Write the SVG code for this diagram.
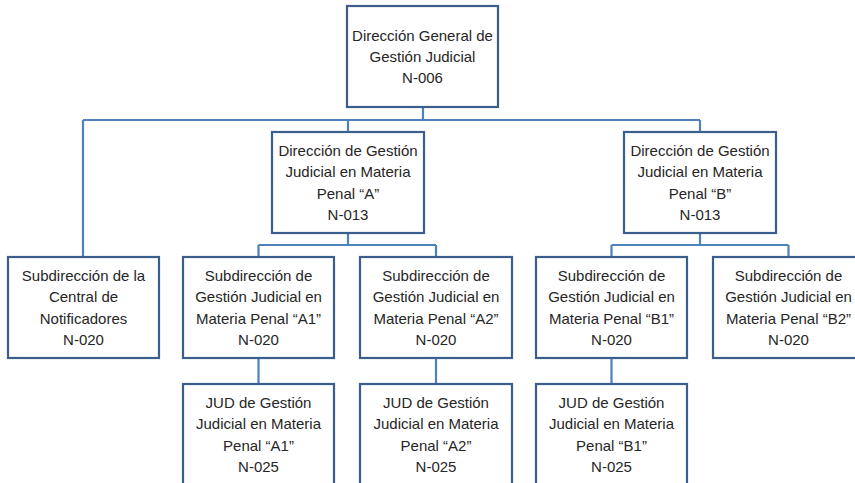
<svg xmlns="http://www.w3.org/2000/svg" width="855" height="483" viewBox="0 0 855 483">
<style>
.box{fill:#fff;stroke:#3A5F8C;stroke-width:2.2}
.con{fill:none;stroke:#4F81BD;stroke-width:2.2}
text{font-family:"Liberation Sans",Arial,sans-serif;font-size:15px;fill:#262626;text-anchor:middle}
</style>
<rect width="855" height="483" fill="#fff"/>
<g id="connectors">
<path class="con" d="M423 107V120M83 120H700M83 120V257M348 120V132M700 120V132"/>
<path class="con" d="M348 233V245M258.5 245H436M258.5 245V257M436 245V257"/>
<path class="con" d="M700 233V245M611.5 245H788.5M611.5 245V257M788.5 245V257"/>
<path class="con" d="M258.5 358V384M436 358V384M611.5 358V384"/>
</g>
<g id="n006">
<rect class="box" x="347" y="6" width="151" height="101"/>
<text x="422.5" y="40.5">Dirección General de</text>
<text x="422.5" y="61.5">Gestión Judicial</text>
<text x="422.5" y="82.5">N-006</text>
</g>
<g id="dirA">
<rect class="box" x="272" y="132" width="152" height="101"/>
<text x="348" y="156">Dirección de Gestión</text>
<text x="348" y="177.3">Judicial en Materia</text>
<text x="348" y="198.6">Penal “A”</text>
<text x="348" y="220">N-013</text>
</g>
<g id="dirB">
<rect class="box" x="624" y="132" width="152" height="101"/>
<text x="700" y="156">Dirección de Gestión</text>
<text x="700" y="177.3">Judicial en Materia</text>
<text x="700" y="198.6">Penal “B”</text>
<text x="700" y="220">N-013</text>
</g>
<g id="central">
<rect class="box" x="8" y="257" width="151" height="101"/>
<text x="83.5" y="281">Subdirección de la</text>
<text x="83.5" y="302.3">Central de</text>
<text x="83.5" y="323.6">Notificadores</text>
<text x="83.5" y="345">N-020</text>
</g>
<g id="subA1">
<rect class="box" x="183" y="257" width="151" height="101"/>
<text x="258.5" y="281">Subdirección de</text>
<text x="258.5" y="302.3">Gestión Judicial en</text>
<text x="258.5" y="323.6">Materia Penal “A1”</text>
<text x="258.5" y="345">N-020</text>
</g>
<g id="subA2">
<rect class="box" x="360" y="257" width="152" height="101"/>
<text x="436" y="281">Subdirección de</text>
<text x="436" y="302.3">Gestión Judicial en</text>
<text x="436" y="323.6">Materia Penal “A2”</text>
<text x="436" y="345">N-020</text>
</g>
<g id="subB1">
<rect class="box" x="536" y="257" width="151" height="101"/>
<text x="611.5" y="281">Subdirección de</text>
<text x="611.5" y="302.3">Gestión Judicial en</text>
<text x="611.5" y="323.6">Materia Penal “B1”</text>
<text x="611.5" y="345">N-020</text>
</g>
<g id="subB2">
<rect class="box" x="713" y="257" width="151" height="101"/>
<text x="788.5" y="281">Subdirección de</text>
<text x="788.5" y="302.3">Gestión Judicial en</text>
<text x="788.5" y="323.6">Materia Penal “B2”</text>
<text x="788.5" y="345">N-020</text>
</g>
<g id="judA1">
<rect class="box" x="183" y="384" width="151" height="101"/>
<text x="258.5" y="408">JUD de Gestión</text>
<text x="258.5" y="429.3">Judicial en Materia</text>
<text x="258.5" y="450.6">Penal “A1”</text>
<text x="258.5" y="472">N-025</text>
</g>
<g id="judA2">
<rect class="box" x="360" y="384" width="152" height="101"/>
<text x="436" y="408">JUD de Gestión</text>
<text x="436" y="429.3">Judicial en Materia</text>
<text x="436" y="450.6">Penal “A2”</text>
<text x="436" y="472">N-025</text>
</g>
<g id="judB1">
<rect class="box" x="536" y="384" width="151" height="101"/>
<text x="611.5" y="408">JUD de Gestión</text>
<text x="611.5" y="429.3">Judicial en Materia</text>
<text x="611.5" y="450.6">Penal “B1”</text>
<text x="611.5" y="472">N-025</text>
</g>
</svg>
